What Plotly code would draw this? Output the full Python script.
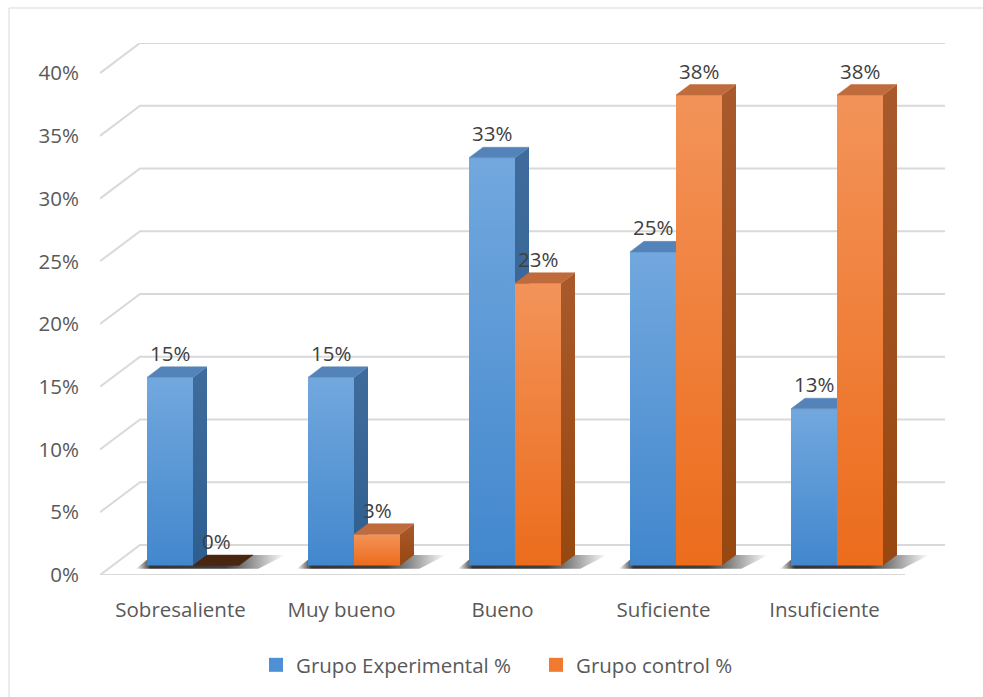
import math
import plotly.graph_objects as go

# ---------------- data ----------------
categories = ["Sobresaliente", "Muy bueno", "Bueno", "Suficiente", "Insuficiente"]
experimental = [15, 15, 32.5, 25, 12.5]
control = [0, 2.5, 22.5, 37.5, 37.5]
series_names = ["Grupo Experimental %", "Grupo control %"]
y_ticks = [0, 5, 10, 15, 20, 25, 30, 35, 40]
y_tick_labels = [f"{t}%" for t in y_ticks]

# ---------------- 3D geometry (in data units) ----------------
PX_X = 161.0   # px per category
PX_Y = 12.5    # px per percent
DX = 40 / PX_X      # floor depth (x)
DY = 30 / PX_Y      # floor depth (y)
dx0 = 12.5 / PX_X   # bar front offset into depth
dy0 = dx0 * PX_X / 40 * DY
ddx = 14 / PX_X     # bar depth
ddy = 14 / 40 * DY
W = 46 / PX_X       # bar front width

FONT = "Open Sans"
FS = 20.5
TXT = "#595959"
GRID = "#d9d9d9"

styles = [
    dict(front=[[0, "#4287cd"], [1, "#72a8de"]],
         side=[[0, "#2e5e90"], [1, "#3f6c9c"]],
         top="#5383b8", legend="#4f8fd4"),
    dict(front=[[0, "#ec6c1c"], [1, "#f39359"]],
         side=[[0, "#97470f"], [1, "#a95a2c"]],
         top="#c06b3c", legend="#ef7a30"),
]

fig = go.Figure()

# gridlines (left wall diagonal + back wall)
x_left = -0.5
x_right = len(categories) - 0.5
for t in y_ticks:
    fig.add_trace(go.Scatter(
        x=[x_left, x_left + DX, x_right + DX],
        y=[t, t + DY, t + DY],
        mode="lines", line=dict(color=GRID, width=2),
        hoverinfo="skip", showlegend=False))
# floor front edge
fig.add_trace(go.Scatter(
    x=[x_left, x_right], y=[0, 0], mode="lines",
    line=dict(color=GRID, width=2), hoverinfo="skip", showlegend=False))

# shadows under bar pairs
for i in range(len(categories)):
    L = i + dx0 - W
    R = i + dx0 + W
    fig.add_trace(go.Scatter(
        x=[L - 0.07, R + 0.12, R + ddx + 0.2, L + ddx - 0.05, L - 0.07],
        y=[dy0 - 0.25, dy0 - 0.25, dy0 + ddy, dy0 + ddy, dy0 - 0.25],
        mode="lines", line=dict(width=0), fill="toself",
        fillgradient=dict(type="horizontal", colorscale=[
            [0, "rgba(0,0,0,0)"], [0.1, "rgba(0,0,0,0.8)"],
            [0.6, "rgba(0,0,0,0.75)"], [1, "rgba(0,0,0,0)"]]),
        hoverinfo="skip", showlegend=False))

annotations = []
for s, vals in enumerate([experimental, control]):
    st = styles[s]
    for i, v in enumerate(vals):
        x0 = i + dx0 - W + s * W
        x1 = x0 + W
        yb = dy0
        yt = v + dy0
        if v > 0:
            # front
            fig.add_trace(go.Scatter(
                x=[x0, x1, x1, x0, x0], y=[yb, yb, yt, yt, yb],
                mode="lines", line=dict(width=0), fill="toself",
                fillgradient=dict(type="vertical", colorscale=st["front"]),
                hoverinfo="skip", showlegend=False))
            # side
            fig.add_trace(go.Scatter(
                x=[x1, x1 + ddx, x1 + ddx, x1, x1],
                y=[yb, yb + ddy, yt + ddy, yt, yb],
                mode="lines", line=dict(width=0), fill="toself",
                fillgradient=dict(type="vertical", colorscale=st["side"]),
                hoverinfo="skip", showlegend=False))
        # top
        top_color = st["top"] if v > 0 else "#4a2611"
        fig.add_trace(go.Scatter(
            x=[x0, x1, x1 + ddx, x0 + ddx, x0],
            y=[yt, yt, yt + ddy, yt + ddy, yt],
            mode="lines", line=dict(width=0.5, color=top_color), fill="toself",
            fillcolor=top_color, hoverinfo="skip", showlegend=False))
        annotations.append(dict(
            x=(x0 + x1) / 2, y=yt + ddy, xref="x", yref="y",
            text=f"{int(math.floor(v + 0.5))}%", showarrow=False,
            yanchor="bottom", yshift=-2,
            font=dict(family=FONT, size=FS, color="#404040")))

# legend entries (two separate legends for exact placement)
legend_refs = ["legend", "legend2"]
for s in range(2):
    fig.add_trace(go.Scatter(
        x=[None], y=[None], mode="markers", name=series_names[s],
        legend=legend_refs[s],
        marker=dict(symbol="square", size=14, color=styles[s]["legend"])))

plot_l, plot_r, plot_t, plot_b = 100, 945, 43, 575
H = 697
Wd = 983

def py(p):
    return (plot_b - p) / (plot_b - plot_t)

def px(p):
    return (p - plot_l) / (plot_r - plot_l)

leg_common = dict(orientation="h", xref="container", yref="container",
                  xanchor="left", y=(H - 665) / H, yanchor="middle",
                  font=dict(family=FONT, size=FS, color=TXT), itemwidth=30,
                  bgcolor="rgba(0,0,0,0)")

fig.update_layout(
    width=Wd, height=H,
    margin=dict(l=plot_l, r=Wd - plot_r, t=plot_t, b=H - plot_b),
    paper_bgcolor="white", plot_bgcolor="white",
    font=dict(family=FONT, size=FS, color=TXT),
    xaxis=dict(range=[x_left, x_right + DX], tickvals=list(range(len(categories))),
               ticktext=categories, showgrid=False, zeroline=False, showline=False,
               ticks="", ticklabelstandoff=20, fixedrange=True),
    yaxis=dict(range=[0, 40 + DY], tickvals=y_ticks, ticktext=y_tick_labels,
               showgrid=False, zeroline=False, showline=False, ticks="",
               ticklabelstandoff=20, fixedrange=True),
    showlegend=True,
    legend=dict(x=(273 - 17) / Wd, **leg_common),
    legend2=dict(x=(552 - 16) / Wd, **leg_common),
    annotations=annotations,
    shapes=[dict(type="rect", xref="paper", yref="paper",
                 x0=px(9), x1=px(1000), y0=py(720), y1=py(8),
                 line=dict(color=GRID, width=1), layer="below")],
)

fig.write_html("out.html")
